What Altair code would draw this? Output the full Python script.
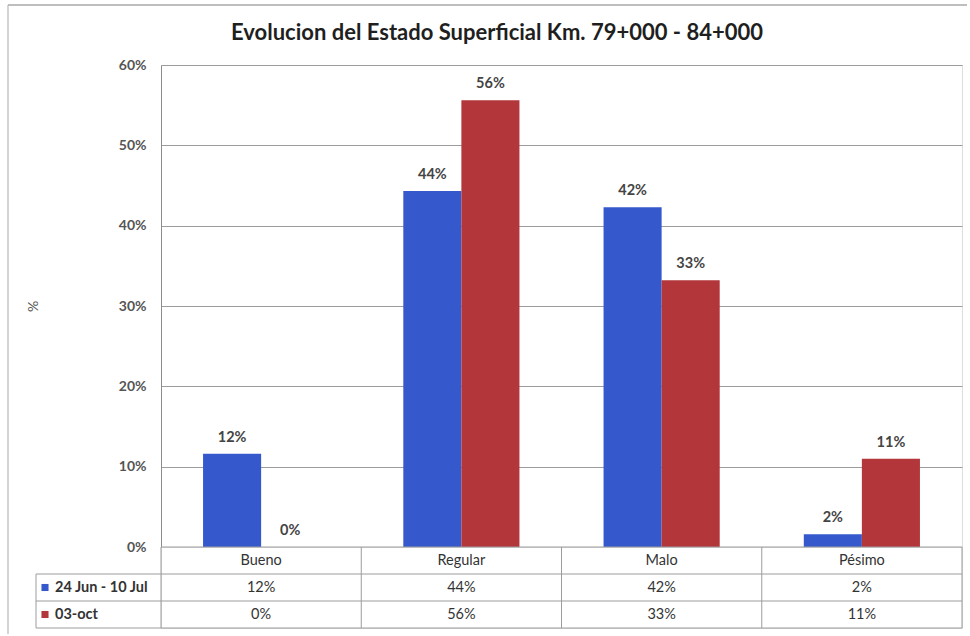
import altair as alt
import pandas as pd

# Survey values per surface condition class (fraction of the stretch)
categories = ["Bueno", "Regular", "Malo", "Pésimo"]
series_names = ["24 Jun - 10 Jul", "03-oct"]
serie_jun_jul = [0.116, 0.443, 0.423, 0.016]
serie_oct = [0.0, 0.556, 0.332, 0.110]
y_ticks = [0, 0.1, 0.2, 0.3, 0.4, 0.5, 0.6]
bar_colors = ["#3558cc", "#b2363a"]
title_text = "Evolucion del Estado Superficial Km. 79+000 - 84+000"
header_row = "encabezado"

FONT = "Lato"
GRID = "#9c9c9c"
PLOT_W, PLOT_H, TABLE_H = 801, 482, 81

rows = []
for serie, values in zip(series_names, [serie_jun_jul, serie_oct]):
    for cat, v in zip(categories, values):
        rows.append({"categoria": cat, "serie": serie, "valor": v, "etiqueta": f"{v:.0%}"})
bars_df = pd.DataFrame(rows)

color_scale = alt.Scale(domain=series_names, range=bar_colors)

x_bars = alt.X("categoria:N", sort=categories,
               scale=alt.Scale(domain=categories, paddingInner=0.42, paddingOuter=0.21),
               axis=None)
x_off = alt.XOffset("serie:N", sort=series_names, scale=alt.Scale(domain=series_names))
y_bars = alt.Y("valor:Q", scale=alt.Scale(domain=[0, 0.6], nice=False),
               axis=alt.Axis(values=y_ticks, format=".0%", grid=True, gridColor=GRID,
                             gridWidth=1, domainColor="#8c8c8c", ticks=False,
                             labelPadding=15, labelFont=FONT, labelFontSize=14,
                             labelFontWeight="bold", labelColor="#555555",
                             title="%", titleX=-121, titleY=PLOT_H / 2,
                             titleFont=FONT, titleFontSize=14, titleFontWeight="normal",
                             titleColor="#555555"))

base = alt.Chart(bars_df)
bars = base.mark_bar().encode(
    x=x_bars, xOffset=x_off, y=y_bars,
    color=alt.Color("serie:N", scale=color_scale, legend=None),
)
bar_labels = base.mark_text(dy=-16, font=FONT, fontSize=14.5, fontWeight="bold",
                            color="#444444").encode(
    x=x_bars, xOffset=x_off, y="valor:Q",
    text=alt.Text("valor:Q", format=".0%"),
)

one = pd.DataFrame({"t": [title_text]})
title_mark = alt.Chart(one).mark_text(font=FONT, fontSize=22, fontWeight="bold",
                                      color="#1f1f1f").encode(
    x=alt.value(336), y=alt.value(-32), text="t:N")

frame_top = alt.Chart(one).mark_rule(color="#a8a8a8", strokeWidth=1.5).encode(
    x=alt.value(-153), x2=alt.value(806), y=alt.value(-60))
frame_left = alt.Chart(one).mark_rule(color="#b8b8b8", strokeWidth=1.2).encode(
    x=alt.value(-153), y=alt.value(-60), y2=alt.value(PLOT_H + TABLE_H + 6))

top = alt.layer(frame_top, frame_left, bars, bar_labels, title_mark).properties(
    width=PLOT_W, height=PLOT_H)

# Data table under the plot
table_rows = [{"categoria": c, "fila": header_row, "texto": c} for c in categories]
table_rows += [{"categoria": r["categoria"], "fila": r["serie"], "texto": r["etiqueta"]}
               for r in rows]
table_df = pd.DataFrame(table_rows)
row_domain = [header_row] + series_names

x_tab = alt.X("categoria:N", sort=categories,
              scale=alt.Scale(domain=categories, paddingInner=0, paddingOuter=0),
              axis=None)
y_tab = alt.Y("fila:N", scale=alt.Scale(type="band", domain=row_domain,
                                         paddingInner=0, paddingOuter=0), axis=None)

cells = alt.Chart(table_df).mark_text(font=FONT, fontSize=14.5, color="#333333").encode(
    x=x_tab, y=y_tab, text="texto:N")

cat_df = pd.DataFrame({"categoria": categories})
v_lines = alt.Chart(cat_df).mark_rule(color=GRID).encode(
    x=alt.X("categoria:N", sort=categories, bandPosition=0), y=alt.value(0),
    y2=alt.value(TABLE_H))
right_line = alt.Chart(one).mark_rule(color=GRID).encode(
    x=alt.value(PLOT_W), y=alt.value(0), y2=alt.value(TABLE_H))
legend_left = alt.Chart(one).mark_rule(color=GRID).encode(
    x=alt.value(-125), y=alt.value(TABLE_H / 3), y2=alt.value(TABLE_H))

serie_df = pd.DataFrame({"fila": series_names, "serie": series_names})
h_lines = alt.Chart(serie_df).mark_rule(color=GRID).encode(
    y=alt.Y("fila:N", bandPosition=0), x=alt.value(-125), x2=alt.value(PLOT_W))
bottom_line = alt.Chart(one).mark_rule(color=GRID).encode(
    y=alt.value(TABLE_H), x=alt.value(-125), x2=alt.value(PLOT_W))
top_line = alt.Chart(one).mark_rule(color=GRID).encode(
    y=alt.value(0), x=alt.value(0), x2=alt.value(PLOT_W))

legend_keys = alt.Chart(serie_df).mark_point(shape="square", filled=True, size=50,
                                             opacity=1).encode(
    x=alt.value(-116), y="fila:N",
    color=alt.Color("serie:N", scale=color_scale, legend=None))
legend_text = alt.Chart(serie_df).mark_text(align="left", font=FONT, fontSize=14.5,
                                            fontWeight="bold", color="#333333").encode(
    x=alt.value(-106), y="fila:N", text="serie:N")

table = alt.layer(cells, v_lines, right_line, legend_left, h_lines, bottom_line,
                  top_line, legend_keys, legend_text).properties(
    width=PLOT_W, height=TABLE_H)

chart = alt.vconcat(top, table, spacing=0, bounds="flush").resolve_scale(
    x="independent", y="independent", color="shared"
).properties(
    padding={"left": 6, "top": 3, "right": 0, "bottom": 0}
).configure_view(strokeWidth=0).configure(background="white")

chart.save("out.html", embed_options={"renderer": "svg", "actions": False})
